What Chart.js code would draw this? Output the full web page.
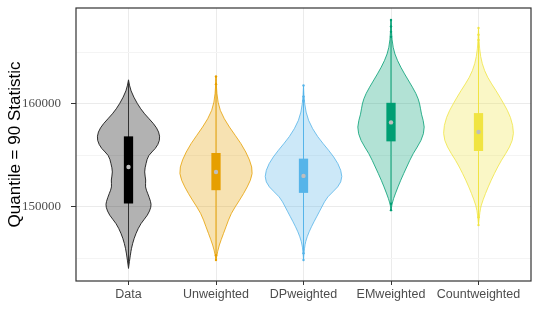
<!DOCTYPE html>
<html>
<head>
<meta charset="utf-8">
<script src="https://cdn.jsdelivr.net/npm/chart.js@4.4.0/dist/chart.umd.min.js"></script>
<style>
    html, body { margin: 0; padding: 0; background: #fff; }
</style>
</head>
<body>
<canvas id="violinChart" width="539" height="327"></canvas>
<script>
// ===== Categories & colours =====
const categories = ['Data', 'Unweighted', 'DPweighted', 'EMweighted', 'Countweighted'];
const seriesColors = ['#000000', '#E69F00', '#56B4E9', '#009E73', '#F0E442'];

// ===== Violin outlines: statistic value and half-width (in category units) =====
const dataVals = [144032, 145484, 146452, 147419, 148387, 149194, 150000, 150484, 151290, 151935, 152581, 153387, 154194, 155000, 155645, 156452, 157258, 158065, 159032, 160000, 161290, 162323];
const dataWidths = [0, 0.023, 0.046, 0.084, 0.14, 0.22, 0.26, 0.255, 0.22, 0.19, 0.20, 0.18, 0.20, 0.225, 0.31, 0.36, 0.35, 0.29, 0.18, 0.10, 0.023, 0];

const unweightedVals = [144839, 145806, 146774, 148065, 149355, 150645, 151935, 153226, 154516, 156129, 157742, 159355, 160968, 162645];
const unweightedWidths = [0, 0.02, 0.057, 0.115, 0.17, 0.27, 0.36, 0.425, 0.39, 0.29, 0.15, 0.04, 0.008, 0];

const dpweightedVals = [144839, 146129, 147097, 148065, 149032, 150000, 150968, 151935, 152903, 154194, 155484, 156774, 158387, 160000, 161774];
const dpweightedWidths = [0, 0.01, 0.04, 0.09, 0.15, 0.21, 0.27, 0.40, 0.45, 0.40, 0.29, 0.16, 0.05, 0.01, 0];

const emweightedVals = [149677, 150323, 151290, 152581, 153871, 155161, 156452, 157742, 159032, 160000, 160968, 162258, 163548, 164839, 166129, 168129];
const emweightedWidths = [0, 0.01, 0.05, 0.11, 0.18, 0.25, 0.35, 0.39, 0.345, 0.33, 0.29, 0.2, 0.11, 0.04, 0.01, 0];

const countweightedVals = [148226, 149677, 150645, 151935, 153226, 154516, 155806, 157097, 158710, 160000, 161290, 162581, 163871, 165323, 167355];
const countweightedWidths = [0, 0.015, 0.05, 0.11, 0.18, 0.26, 0.36, 0.41, 0.37, 0.29, 0.2, 0.1, 0.04, 0.01, 0];

// ===== Box summaries =====
const boxLower = [150323, 151613, 151355, 156355, 155419];
const boxUpper = [156839, 155226, 154677, 160097, 159097];
const medians = [153871, 153387, 153000, 158194, 157258];

// ===== Points beyond whiskers =====
const outlierCats = [2, 2, 2, 2, 3, 3, 3, 3, 3, 4, 4, 4, 4, 4, 4, 5, 5, 5, 5, 5];
const outlierVals = [162645, 161900, 145300, 144839, 161774, 160700, 160300, 145500, 144839, 168129, 167500, 167000, 166500, 150300, 149677, 167355, 166700, 166200, 149000, 148226];

const violinVals = [dataVals, unweightedVals, dpweightedVals, emweightedVals, countweightedVals];
const violinWidths = [dataWidths, unweightedWidths, dpweightedWidths, emweightedWidths, countweightedWidths];

const yMajor = [150000, 160000];
const yTicks = [145000, 150000, 155000, 160000, 165000];

function withAlpha(hex, a) {
    const n = parseInt(hex.slice(1), 16);
    return `rgba(${n >> 16}, ${(n >> 8) & 255}, ${n & 255}, ${a})`;
}

// ===== Violin + box drawing plugin =====
const violinPlugin = {
    id: 'violins',
    beforeDatasetsDraw(chart) {
        const { ctx, scales: { x, y }, chartArea } = chart;
        ctx.save();
        ctx.beginPath();
        ctx.rect(chartArea.left, chartArea.top, chartArea.width, chartArea.height);
        ctx.clip();

        categories.forEach((cat, i) => {
            const pos = i + 1;
            const vals = violinVals[i];
            const ws = violinWidths[i];
            const col = seriesColors[i];

            // outline points: right side bottom->top, left side top->bottom
            const pts = [];
            vals.forEach((v, k) => pts.push([x.getPixelForValue(pos + ws[k]), y.getPixelForValue(v)]));
            for (let k = vals.length - 1; k >= 0; k--) {
                pts.push([x.getPixelForValue(pos - ws[k]), y.getPixelForValue(vals[k])]);
            }
            ctx.beginPath();
            ctx.moveTo(pts[0][0], pts[0][1]);
            for (let k = 1; k < pts.length - 1; k++) {
                const mx = (pts[k][0] + pts[k + 1][0]) / 2;
                const my = (pts[k][1] + pts[k + 1][1]) / 2;
                ctx.quadraticCurveTo(pts[k][0], pts[k][1], mx, my);
            }
            ctx.lineTo(pts[pts.length - 1][0], pts[pts.length - 1][1]);
            ctx.closePath();
            ctx.fillStyle = withAlpha(col, 0.3);
            ctx.fill();
            ctx.lineWidth = 0.8;
            ctx.strokeStyle = col;
            ctx.stroke();

            // whisker line through the violin
            const cx = x.getPixelForValue(pos);
            ctx.beginPath();
            ctx.moveTo(cx, y.getPixelForValue(vals[0]));
            ctx.lineTo(cx, y.getPixelForValue(vals[vals.length - 1]));
            ctx.lineWidth = 1;
            ctx.strokeStyle = i === 0 ? '#333333' : col;
            ctx.stroke();

            // box
            const bl = x.getPixelForValue(pos - 0.053);
            const br = x.getPixelForValue(pos + 0.053);
            const bt = y.getPixelForValue(boxUpper[i]);
            const bb = y.getPixelForValue(boxLower[i]);
            ctx.fillStyle = col;
            ctx.fillRect(bl, bt, br - bl, bb - bt);
        });
        ctx.restore();
    },
    afterDraw(chart) {
        const { ctx, chartArea } = chart;
        ctx.save();
        ctx.strokeStyle = '#333333';
        ctx.lineWidth = 1.2;
        ctx.strokeRect(chartArea.left, chartArea.top, chartArea.width, chartArea.height);
        ctx.restore();
    }
};

new Chart(document.getElementById('violinChart'), {
    type: 'scatter',
    data: {
        datasets: [
            {
                label: 'Outliers',
                data: outlierCats.map((c, k) => ({ x: c, y: outlierVals[k] })),
                pointRadius: 1.2,
                pointBorderWidth: 0,
                pointBackgroundColor: outlierCats.map(c => seriesColors[c - 1])
            },
            {
                label: 'Median',
                data: medians.map((m, i) => ({ x: i + 1, y: m })),
                pointRadius: 2.2,
                pointBorderWidth: 0,
                pointBackgroundColor: '#BEBEBE'
            }
        ]
    },
    options: {
        responsive: false,
        animation: false,
        layout: { padding: { top: 8, right: 8, left: 0, bottom: 0 } },
        plugins: {
            legend: { display: false },
            tooltip: { enabled: false }
        },
        scales: {
            x: {
                type: 'linear',
                min: 0.4,
                max: 5.6,
                afterBuildTicks: (scale) => { scale.ticks = categories.map((c, i) => ({ value: i + 1 })); },
                afterFit: (scale) => { scale.height = 46; scale.paddingLeft = 0; scale.paddingRight = 0; },
                border: { display: false },
                grid: { color: '#ebebeb', lineWidth: 1, tickLength: 4, tickColor: '#333333' },
                ticks: {
                    callback: (v) => categories[v - 1] || '',
                    color: '#4d4d4d',
                    font: { family: 'Liberation Sans', size: 12.5 },
                    padding: 2,
                    maxRotation: 0,
                    autoSkip: false
                }
            },
            y: {
                min: 142800,
                max: 169300,
                afterBuildTicks: (scale) => { scale.ticks = yTicks.map(v => ({ value: v })); },
                afterFit: (scale) => { scale.width = 76; scale.paddingTop = 0; scale.paddingBottom = 0; },
                border: { display: false },
                grid: {
                    color: (c) => yMajor.includes(c.tick && c.tick.value) ? '#ebebeb' : '#f4f4f4',
                    lineWidth: 1,
                    tickLength: 5,
                    tickColor: (c) => yMajor.includes(c.tick && c.tick.value) ? '#333333' : 'rgba(0,0,0,0)'
                },
                ticks: {
                    callback: (v) => yMajor.includes(v) ? String(v) : '',
                    color: '#4d4d4d',
                    font: { family: 'Liberation Sans Narrow', size: 13 },
                    padding: 10
                },
                title: {
                    display: true,
                    text: 'Quantile = 90 Statistic',
                    color: '#000000',
                    font: { family: 'Liberation Sans', size: 17 },
                    padding: { top: 5, bottom: 0 }
                }
            }
        }
    },
    plugins: [violinPlugin]
});
</script>
</body>
</html>
